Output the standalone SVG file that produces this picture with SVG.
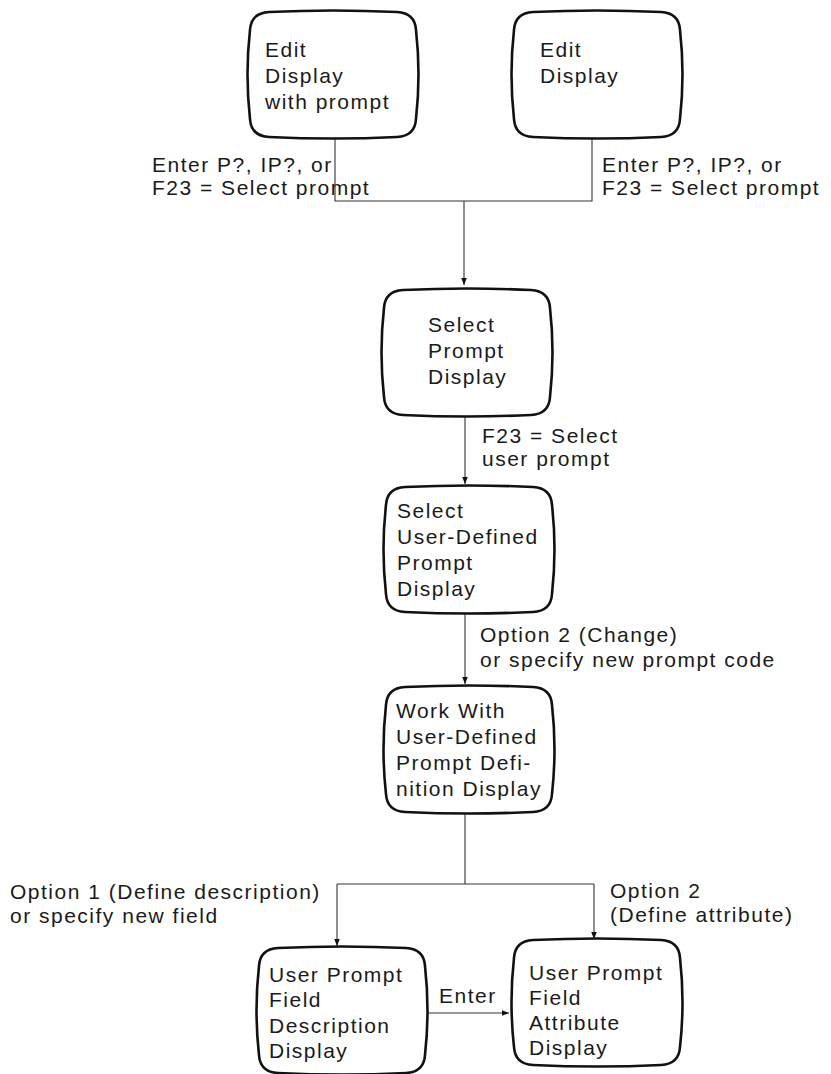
<svg xmlns="http://www.w3.org/2000/svg" xmlns:xlink="http://www.w3.org/1999/xlink" width="831" height="1074" viewBox="0 0 831 1074">
<defs>
<style>
.box{fill:#fff;stroke:#111;stroke-width:2.6;stroke-linejoin:round}
.t{font-family:"Liberation Sans",Arial,sans-serif;font-size:21px;letter-spacing:1.5px;fill:#1a1a1a}
.c{fill:none;stroke:#333;stroke-width:1.1}
</style>
<path id="screen" d="M20,0 Q84,-3 148,0 Q166,1 167,18 Q172,62 167,107 Q166,124 148,125 Q84,128 20,125 Q2,124 1,107 Q-4,62 1,18 Q2,1 20,0 Z"/>
<marker id="ah" viewBox="0 0 10 10" refX="10" refY="5" markerWidth="7" markerHeight="7" markerUnits="userSpaceOnUse" orient="auto">
<path d="M0,1 L10,5 L0,9 Z" fill="#111"/>
</marker>
</defs>
<rect width="831" height="1074" fill="#fff"/>

<g id="connectors">
<path class="c" d="M335,138 V201 H592 V138"/>
<path class="c" d="M464,201 V285" marker-end="url(#ah)"/>
<path class="c" d="M465,415 V484" marker-end="url(#ah)"/>
<path class="c" d="M465,612 V684" marker-end="url(#ah)"/>
<path class="c" d="M465,812 V884 M337,884 H594"/>
<path class="c" d="M337,884 V946" marker-end="url(#ah)"/>
<path class="c" d="M594,884 V939" marker-end="url(#ah)"/>
<path class="c" d="M423,1013 H509" marker-end="url(#ah)"/>
<g class="t">
<text x="152" y="172">Enter P?, IP?, or</text>
<text x="152" y="195">F23 = Select prompt</text>
<text x="602" y="172">Enter P?, IP?, or</text>
<text x="602" y="195">F23 = Select prompt</text>
<text x="482" y="443">F23 = Select</text>
<text x="482" y="466">user prompt</text>
<text x="480" y="642">Option 2 (Change)</text>
<text x="480" y="667">or specify new prompt code</text>
<text x="10" y="899">Option 1 (Define description)</text>
<text x="10" y="923">or specify new field</text>
<text x="610" y="898">Option 2</text>
<text x="610" y="922">(Define attribute)</text>
<text x="439" y="1003">Enter</text>
</g>
</g>

<g id="n1">
<use xlink:href="#screen" class="box" x="249" y="12"/>
<text class="t" x="265" y="57">Edit</text>
<text class="t" x="265" y="83">Display</text>
<text class="t" x="265" y="109">with prompt</text>
</g>
<g id="n2">
<use xlink:href="#screen" class="box" x="513" y="12"/>
<text class="t" x="540" y="57">Edit</text>
<text class="t" x="540" y="83">Display</text>
</g>
<g id="n3">
<use xlink:href="#screen" class="box" x="383" y="290"/>
<text class="t" x="428" y="332">Select</text>
<text class="t" x="428" y="358">Prompt</text>
<text class="t" x="428" y="384">Display</text>
</g>
<g id="n4">
<use xlink:href="#screen" class="box" x="385" y="487"/>
<text class="t" x="397" y="518">Select</text>
<text class="t" x="397" y="544">User-Defined</text>
<text class="t" x="397" y="570">Prompt</text>
<text class="t" x="397" y="596">Display</text>
</g>
<g id="n5">
<use xlink:href="#screen" class="box" x="385" y="687"/>
<text class="t" x="396" y="718">Work With</text>
<text class="t" x="396" y="744">User-Defined</text>
<text class="t" x="396" y="770">Prompt Defi-</text>
<text class="t" x="396" y="796">nition Display</text>
</g>
<g id="n6">
<use xlink:href="#screen" class="box" x="258" y="948"/>
<text class="t" x="269" y="982">User Prompt</text>
<text class="t" x="269" y="1007">Field</text>
<text class="t" x="269" y="1033">Description</text>
<text class="t" x="269" y="1058">Display</text>
</g>
<g id="n7">
<use xlink:href="#screen" class="box" x="513" y="940"/>
<text class="t" x="529" y="980">User Prompt</text>
<text class="t" x="529" y="1005">Field</text>
<text class="t" x="529" y="1030">Attribute</text>
<text class="t" x="529" y="1055">Display</text>
</g>
</svg>
